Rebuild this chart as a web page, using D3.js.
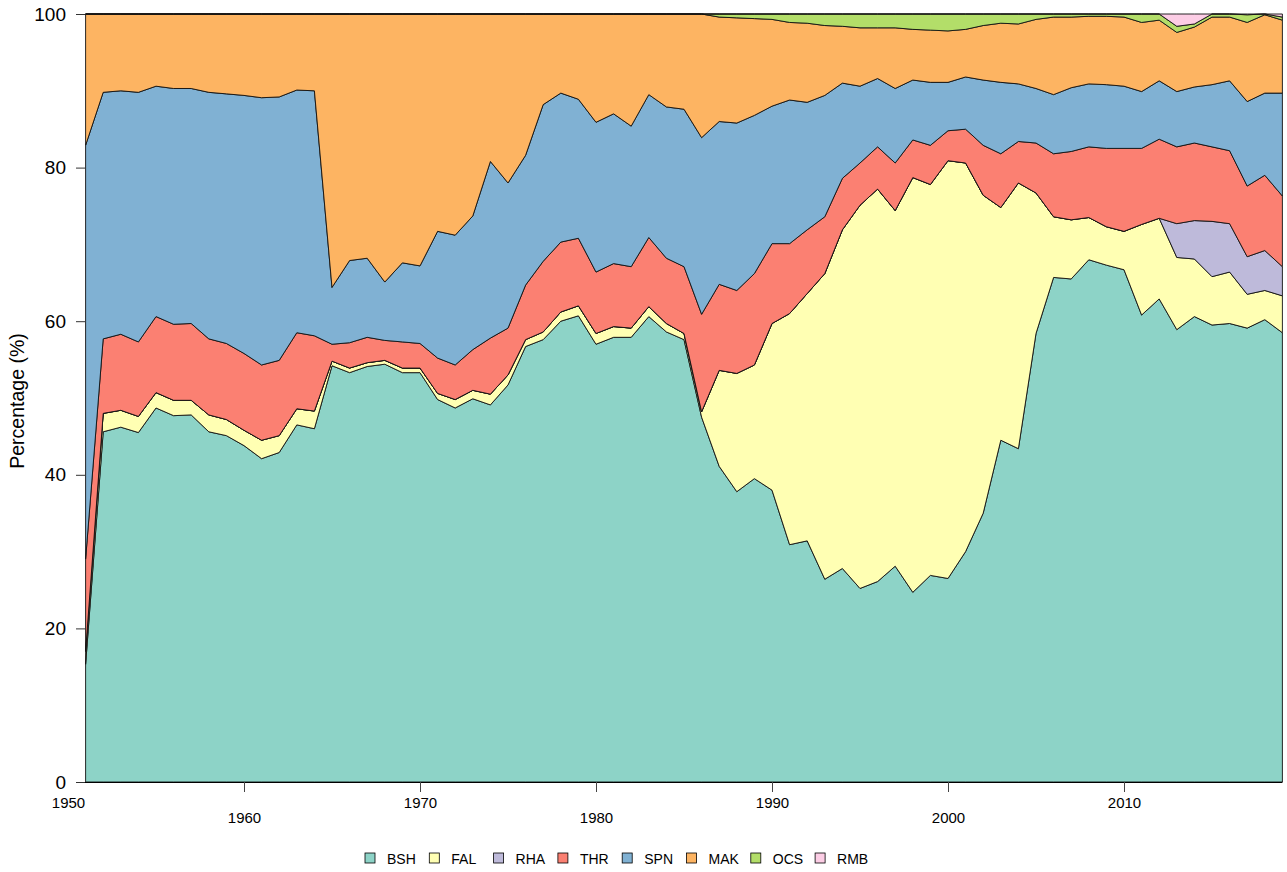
<!DOCTYPE html>
<html>
<head>
<meta charset="utf-8">
<script src="https://cdnjs.cloudflare.com/ajax/libs/d3/7.8.5/d3.min.js"></script>
<style>
  body { margin: 0; background: #fff; }
  svg { display: block; font-family: "Liberation Sans", Arial, sans-serif; }
</style>
</head>
<body>
<svg id="chart" width="1287" height="872"></svg>
<script>
var years = d3.range(1951, 2020);
var species = ["BSH", "FAL", "RHA", "THR", "SPN", "MAK", "OCS", "RMB"];
var colours = ["#8dd3c7", "#ffffb3", "#bebada", "#fb8072", "#80b1d3", "#fdb462", "#b3de69", "#fccde5"];
var xTicks = [1950, 1960, 1970, 1980, 1990, 2000, 2010];
var yTicks = [0, 20, 40, 60, 80, 100];

// percentage of catch by species, 1951-2019
var BSH = [15.3, 45.6, 46.2, 45.5, 48.7, 47.7, 47.8, 45.6, 45.1, 43.8,
           42.1, 42.9, 46.5, 46.0, 54.2, 53.3, 54.1, 54.4, 53.3, 53.3,
           49.8, 48.7, 49.9, 49.1, 51.7, 56.7, 57.6, 60.0, 60.7, 57.0,
           57.9, 57.9, 60.6, 58.6, 57.6, 47.5, 41.1, 37.8, 39.5, 38.0,
           30.9, 31.4, 26.4, 27.8, 25.2, 26.1, 28.1, 24.7, 26.9, 26.5,
           30.0, 35.0, 44.5, 43.4, 58.4, 65.7, 65.5, 68.0, 67.3, 66.7,
           60.8, 62.9, 58.9, 60.6, 59.5, 59.7, 59.1, 60.2, 58.5];
var FAL = [1.7, 2.4, 2.2, 2.1, 2.0, 2.0, 1.9, 2.2, 2.1, 2.0,
           2.4, 2.2, 2.1, 2.3, 0.6, 0.6, 0.5, 0.5, 0.6, 0.6,
           0.8, 1.1, 1.1, 1.4, 1.3, 0.9, 1.0, 1.2, 1.3, 1.4,
           1.4, 1.2, 1.3, 1.1, 0.8, 0.7, 12.5, 15.4, 14.8, 21.7,
           30.1, 32.2, 39.8, 44.1, 49.9, 51.1, 46.3, 54.0, 50.9, 54.4,
           50.6, 41.4, 30.3, 34.6, 18.3, 7.9, 7.7, 5.5, 5.0, 5.0,
           11.8, 10.5, 9.4, 7.5, 6.3, 6.7, 4.4, 3.8, 4.8];
var RHA = [0, 0, 0, 0, 0, 0, 0, 0, 0, 0,
           0, 0, 0, 0, 0, 0, 0, 0, 0, 0,
           0, 0, 0, 0, 0, 0, 0, 0, 0, 0,
           0, 0, 0, 0, 0, 0, 0, 0, 0, 0,
           0, 0, 0, 0, 0, 0, 0, 0, 0, 0,
           0, 0, 0, 0, 0, 0, 0, 0, 0, 0,
           0, 0, 4.4, 5.0, 7.2, 6.3, 4.9, 5.2, 3.8];
var THR = [12.0, 9.7, 9.9, 9.7, 9.9, 9.9, 10.0, 9.9, 9.9, 10.0,
           9.8, 9.8, 9.9, 9.8, 2.2, 3.3, 3.3, 2.6, 3.4, 3.2,
           4.6, 4.5, 5.3, 7.3, 6.1, 7.1, 9.2, 9.1, 8.8, 8.0,
           8.2, 8.0, 9.0, 8.5, 8.7, 12.7, 11.2, 10.8, 11.9, 10.4,
           9.1, 8.3, 7.4, 6.7, 5.5, 5.5, 6.2, 4.9, 5.1, 3.9,
           4.4, 6.5, 7.0, 5.4, 6.5, 8.2, 8.9, 9.2, 10.2, 10.8,
           9.9, 10.3, 10.0, 10.1, 9.7, 9.5, 9.2, 9.8, 9.2];
var SPN = [53.9, 32.1, 31.7, 32.5, 30.0, 30.7, 30.6, 32.1, 32.5, 33.6,
           34.8, 34.3, 31.6, 31.9, 7.4, 10.7, 10.3, 7.6, 10.3, 10.1,
           16.5, 16.9, 17.4, 23.0, 18.9, 16.9, 20.4, 19.4, 18.1, 19.5,
           19.5, 18.3, 18.6, 19.7, 20.5, 23.0, 21.2, 21.8, 20.6, 17.9,
           18.7, 16.6, 15.8, 12.4, 10.0, 8.9, 9.7, 7.8, 8.2, 6.3,
           6.8, 8.5, 9.3, 7.5, 7.1, 7.7, 8.3, 8.2, 8.3, 8.1,
           7.4, 7.6, 7.2, 7.3, 8.1, 9.1, 11.0, 10.7, 13.4];
var MAK = [17.1, 10.2, 10.0, 10.2, 9.4, 9.7, 9.7, 10.2, 10.4, 10.6,
           10.9, 10.8, 9.9, 10.0, 35.6, 32.1, 31.8, 34.9, 32.4, 32.8,
           28.3, 28.8, 26.3, 19.2, 22.0, 18.4, 11.8, 10.3, 11.1, 14.1,
           13.0, 14.6, 10.5, 12.1, 12.4, 16.1, 13.6, 13.7, 12.6, 11.3,
           10.1, 10.3, 9.1, 7.4, 7.6, 6.6, 7.9, 6.6, 6.8, 6.7,
           6.2, 7.1, 7.7, 7.8, 9.0, 10.1, 9.2, 8.8, 8.9, 9.0,
           9.0, 7.9, 7.7, 7.8, 8.8, 8.3, 10.3, 10.2, 9.5];
var OCS = [0, 0, 0, 0, 0, 0, 0, 0, 0, 0,
           0, 0, 0, 0, 0, 0, 0, 0, 0, 0,
           0, 0, 0, 0, 0, 0, 0, 0, 0, 0,
           0, 0, 0, 0, 0, 0, 0.4, 0.5, 0.6, 0.7,
           1.1, 1.2, 1.5, 1.6, 1.8, 1.8, 1.8, 2.0, 2.1, 2.2,
           2.0, 1.5, 1.2, 1.3, 0.7, 0.4, 0.4, 0.3, 0.3, 0.4,
           1.1, 0.8, 0.8, 0.4, 0.4, 0.4, 1.0, 0.1, 0.4];
var RMB = [0, 0, 0, 0, 0, 0, 0, 0, 0, 0,
           0, 0, 0, 0, 0, 0, 0, 0, 0, 0,
           0, 0, 0, 0, 0, 0, 0, 0, 0, 0,
           0, 0, 0, 0, 0, 0, 0, 0, 0, 0,
           0, 0, 0, 0, 0, 0, 0, 0, 0, 0,
           0, 0, 0, 0, 0, 0, 0, 0, 0, 0,
           0, 0, 1.6, 1.3, 0, 0, 0.1, 0, 0.4];

var series = [BSH, FAL, RHA, THR, SPN, MAK, OCS, RMB];

var rows = years.map(function(y, i) {
  var row = {year: y};
  species.forEach(function(s, j) { row[s] = series[j][i]; });
  return row;
});

var svg = d3.select("#chart");

var x = d3.scaleLinear().domain([1950, 2019]).range([68, 1282.4]);
var y = d3.scaleLinear().domain([0, 100]).range([782, 14]);
var colour = d3.scaleOrdinal().domain(species).range(colours);

var stack = d3.stack().keys(species).offset(d3.stackOffsetExpand);
var layers = stack(rows);

var area = d3.area()
    .x(function(d) { return x(d.data.year); })
    .y0(function(d) { return y(d[0] * 100); })
    .y1(function(d) { return y(d[1] * 100); });

svg.append("g")
    .selectAll("path")
    .data(layers)
    .enter().append("path")
    .attr("d", area)
    .attr("fill", function(d) { return colour(d.key); })
    .attr("stroke", "#111")
    .attr("stroke-width", 0.9)
    .attr("stroke-linejoin", "round");

// y axis
var yAxis = svg.append("g")
    .attr("transform", "translate(85,0)")
    .call(d3.axisLeft(y).tickValues(yTicks).tickSize(9).tickPadding(10));
yAxis.select(".domain").remove();
yAxis.selectAll(".tick line").attr("stroke", "#333");
yAxis.selectAll(".tick text")
    .attr("fill", "#000")
    .style("font-size", "19px")
    .style("font-family", "Liberation Sans, Arial, sans-serif");

// x axis
svg.append("line")
    .attr("x1", 85).attr("x2", 1282.4)
    .attr("y1", 782.5).attr("y2", 782.5)
    .attr("stroke", "#000");

var xAxis = svg.append("g")
    .attr("transform", "translate(0,782)")
    .call(d3.axisBottom(x).tickValues(xTicks).tickFormat(d3.format("d")).tickSize(10).tickPadding(4));
xAxis.select(".domain").remove();
xAxis.selectAll(".tick line")
    .attr("stroke", "#444")
    .attr("display", function(d) { return d < 1951 ? "none" : null; });
xAxis.selectAll(".tick text")
    .attr("fill", "#000")
    .attr("y", function(d, i) { return i % 2 ? 30 : 15; })
    .style("font-size", "15px")
    .style("font-family", "Liberation Sans, Arial, sans-serif");

svg.append("text")
    .attr("transform", "translate(24,401) rotate(-90)")
    .attr("text-anchor", "middle")
    .style("font-size", "19.5px")
    .text("Percentage (%)");

// legend
var legend = svg.append("g")
    .selectAll("g")
    .data(species)
    .enter().append("g")
    .attr("transform", function(d, i) { return "translate(" + (365 + i * 64.3) + ",853)"; });

legend.append("rect")
    .attr("width", 10).attr("height", 10)
    .attr("fill", function(d) { return colour(d); })
    .attr("stroke", "#000")
    .attr("stroke-width", 0.8);

legend.append("text")
    .attr("x", 22).attr("y", 10.5)
    .style("font-size", "14px")
    .text(function(d) { return d; });
</script>
</body>
</html>
